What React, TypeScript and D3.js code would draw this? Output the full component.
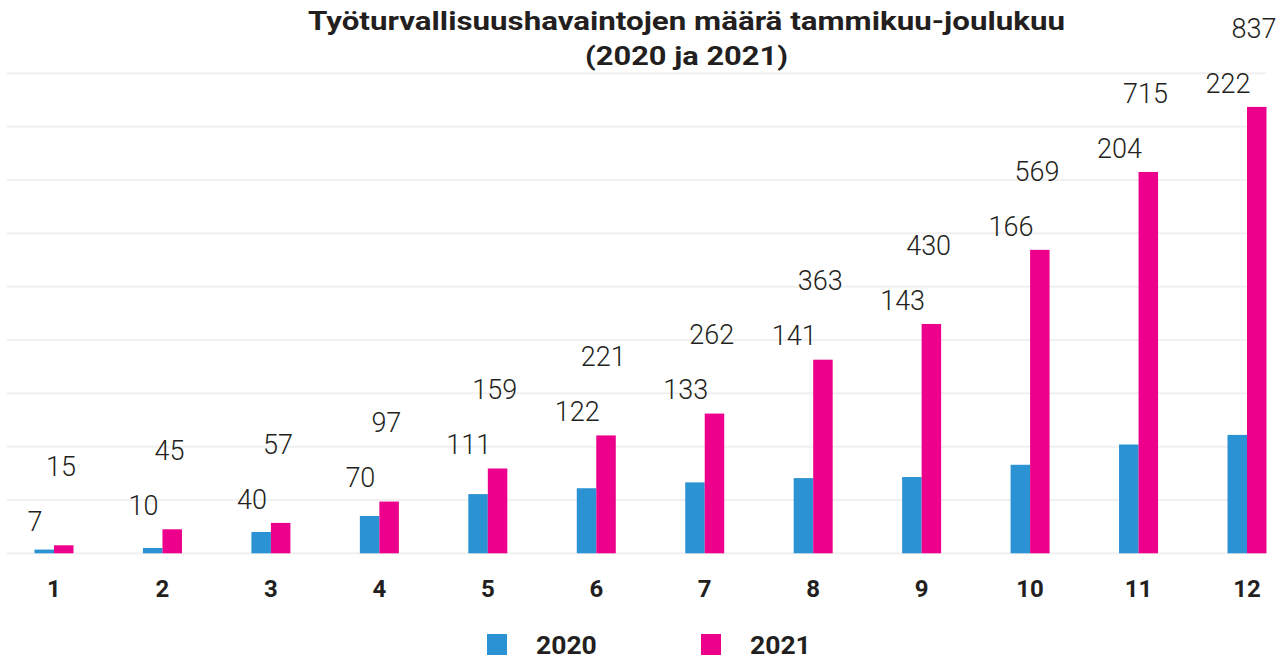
import React from "react";
import * as d3 from "d3";

const months = ["1", "2", "3", "4", "5", "6", "7", "8", "9", "10", "11", "12"];
const values2020 = [7, 10, 40, 70, 111, 122, 133, 141, 143, 166, 204, 222];
const values2021 = [15, 45, 57, 97, 159, 221, 262, 363, 430, 569, 715, 837];
const seriesNames = ["2020", "2021"];
const gridValues = [0, 100, 200, 300, 400, 500, 600, 700, 800, 900];
const titleLines = ["Työturvallisuushavaintojen määrä tammikuu-joulukuu", "(2020 ja 2021)"];

const COLORS = ["#2B93D4", "#EC008C"];
const TEXT = "#231F20";
const W = 1285;
const H = 660;

export default function App() {
  const x = d3.scalePoint<string>().domain(months).range([54, 1247]);
  const inner = d3.scaleBand<string>().domain(seriesNames).range([-19.5, 19.5]);
  const y = d3.scaleLinear().domain([0, 900]).range([553.3, 73.3]);
  const series = [values2020, values2021];

  return (
    <svg
      width={W}
      height={H}
      style={{ position: "absolute", left: 0, top: 0, background: "#fff" }}
      fontFamily="Roboto, 'Noto Sans', sans-serif"
    >
      {gridValues.map((g) => (
        <line key={g} x1={7} x2={1266} y1={y(g)} y2={y(g)} stroke="#F0F0F0" strokeWidth={2} />
      ))}

      {series.map((vals, si) =>
        vals.map((v, i) => (
          <rect
            key={`b${si}-${i}`}
            x={(x(months[i]) as number) + (inner(seriesNames[si]) as number)}
            y={y(v)}
            width={inner.bandwidth()}
            height={y(0) - y(v)}
            fill={COLORS[si]}
          />
        ))
      )}

      {months.map((m, i) => {
        const cx = x(m) as number;
        const top = y(values2021[i]);
        return (
          <g key={`l${m}`} fontSize={27} fontWeight={300} fill={TEXT} textAnchor="middle">
            <text x={cx - 19} y={top - 24} dy="0.36em">{values2020[i]}</text>
            <text x={cx + 7} y={top - 79} dy="0.36em">{values2021[i]}</text>
          </g>
        );
      })}

      {months.map((m) => (
        <text
          key={`ax${m}`}
          x={x(m) as number}
          y={597}
          textAnchor="middle"
          fontSize={24}
          fontWeight={700}
          fill={TEXT}
        >
          {m}
        </text>
      ))}

      <text x={686.5} y={30} textAnchor="middle" fontSize={26} fontWeight={700} fill={TEXT}
        textLength={757} lengthAdjust="spacingAndGlyphs">
        {titleLines[0]}
      </text>
      <text x={686.5} y={65} textAnchor="middle" fontSize={26} fontWeight={700} fill={TEXT}
        textLength={203} lengthAdjust="spacingAndGlyphs">
        {titleLines[1]}
      </text>

      {seriesNames.map((s, si) => {
        const lx = 487 + si * 214;
        return (
          <g key={`lg${s}`}>
            <rect x={lx} y={634} width={20} height={21} fill={COLORS[si]} />
            <text x={lx + 49} y={654} fontSize={26.5} fontWeight={700} fill={TEXT}>{s}</text>
          </g>
        );
      })}
    </svg>
  );
}
